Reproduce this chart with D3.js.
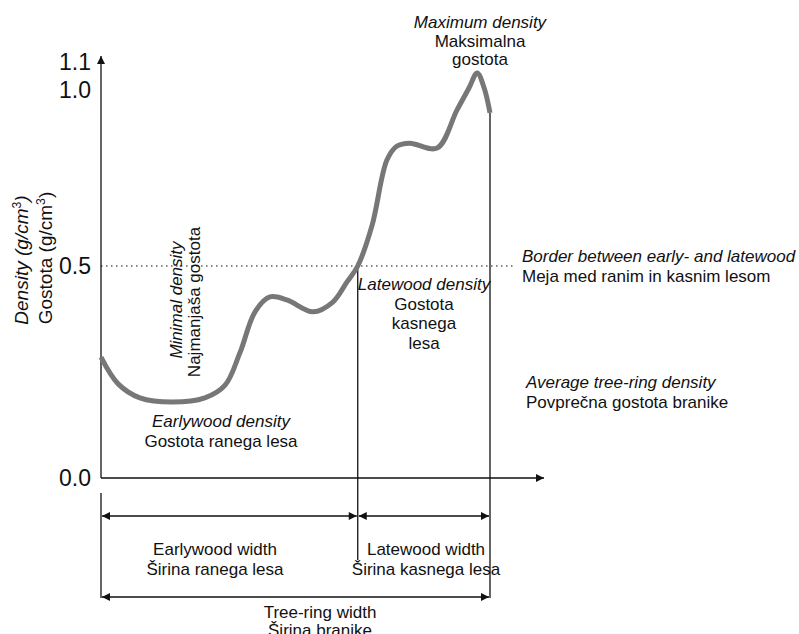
<!DOCTYPE html>
<html>
<head>
<meta charset="utf-8">
<script src="https://cdn.jsdelivr.net/npm/d3@7"></script>
<style>
  body { margin: 0; padding: 0; background: #fff; }
  text { font-family: "Liberation Sans", Arial, sans-serif; fill: #111; }
</style>
</head>
<body>
<div id="chart"></div>
<script>
// Position across the ring (0 = start, 1 = end) and density in g/cm3
const ringPos = [0, 0.044, 0.100, 0.183, 0.267, 0.319, 0.357, 0.396, 0.434, 0.478, 0.545, 0.596, 0.632, 0.660, 0.697, 0.735, 0.761, 0.794, 0.864, 0.915, 0.946, 0.967, 0.985, 1.0];
const density = [0.285, 0.222, 0.189, 0.179, 0.189, 0.219, 0.295, 0.392, 0.427, 0.420, 0.392, 0.415, 0.462, 0.500, 0.616, 0.801, 0.841, 0.849, 0.835, 0.943, 1.007, 1.061, 1.007, 0.935];
const yTicks = [0.0, 0.5, 1.0, 1.1];
const borderDensity = 0.5;
const borderPos = 0.660;

const width = 799, height = 634;

const svg = d3.select("#chart").append("svg")
    .attr("width", width)
    .attr("height", height);

// schematic axis: the drawing is not to scale, so the density axis is piecewise
const x = d3.scaleLinear().domain([0, 1]).range([101, 490]);
const y = d3.scaleLinear().domain([0, 0.5, 1.0, 1.1]).range([478, 266, 90, 62]);

// arrow heads
const defs = svg.append("defs");
defs.append("marker")
    .attr("id", "arr")
    .attr("viewBox", "0 0 10 10")
    .attr("refX", 10).attr("refY", 5)
    .attr("markerWidth", 10).attr("markerHeight", 8)
    .attr("markerUnits", "userSpaceOnUse")
    .attr("orient", "auto-start-reverse")
    .append("path")
    .attr("d", "M0,0 L10,5 L0,10 Z")
    .attr("fill", "#111");

// axis lines
svg.append("line")
    .attr("x1", x(0)).attr("y1", y(0)).attr("x2", x(0)).attr("y2", 56)
    .attr("stroke", "#111").attr("stroke-width", 1.3)
    .attr("marker-end", "url(#arr)");
svg.append("line")
    .attr("x1", x(0)).attr("y1", y(0)).attr("x2", 544).attr("y2", y(0))
    .attr("stroke", "#111").attr("stroke-width", 1.3)
    .attr("marker-end", "url(#arr)");

// tick labels
const yAxis = svg.append("g")
    .attr("transform", `translate(${x(0) - 10},0)`)
    .call(d3.axisLeft(y).tickValues(yTicks).tickSize(0).tickFormat(d3.format(".1f")));
yAxis.select(".domain").remove();
yAxis.selectAll("text")
    .attr("font-size", 23)
    .attr("font-family", "Liberation Sans, Arial, sans-serif")
    .attr("fill", "#111")
    .attr("x", 0);

// border line between early- and latewood
svg.append("line")
    .attr("x1", x(0)).attr("x2", 515)
    .attr("y1", y(borderDensity)).attr("y2", y(borderDensity))
    .attr("stroke", "#111").attr("stroke-width", 1.2)
    .attr("stroke-dasharray", "1.5,3.5");

// vertical guides
svg.append("line")
    .attr("x1", x(borderPos)).attr("x2", x(borderPos))
    .attr("y1", y(borderDensity)).attr("y2", 560)
    .attr("stroke", "#111").attr("stroke-width", 1.3);
svg.append("line")
    .attr("x1", x(1)).attr("x2", x(1))
    .attr("y1", y(density[density.length - 1])).attr("y2", 598)
    .attr("stroke", "#111").attr("stroke-width", 1.3);
svg.append("line")
    .attr("x1", x(0)).attr("x2", x(0))
    .attr("y1", 493).attr("y2", 598)
    .attr("stroke", "#111").attr("stroke-width", 1.3);

// width arrows
function dimArrow(a, b, yy) {
    svg.append("line")
        .attr("x1", x(a) + 1).attr("x2", x(b) - 1)
        .attr("y1", yy).attr("y2", yy)
        .attr("stroke", "#111").attr("stroke-width", 1.3)
        .attr("marker-start", "url(#arr)")
        .attr("marker-end", "url(#arr)");
}
dimArrow(0, borderPos, 516);
dimArrow(borderPos, 1, 516);
dimArrow(0, 1, 597);

// density curve
const pts = ringPos.map((p, i) => [p, density[i]]);
svg.append("path")
    .datum(pts)
    .attr("fill", "none")
    .attr("stroke", "#777")
    .attr("stroke-width", 5)
    .attr("stroke-linejoin", "round")
    .attr("d", d3.line()
        .x(d => x(d[0]))
        .y(d => y(d[1]))
        .curve(d3.curveCatmullRom.alpha(0.5)));

// text helper: lines = [[text, italic], ...]
function label(xx, yy, lines, anchor, size, lh) {
    const t = svg.append("text")
        .attr("x", xx).attr("y", yy)
        .attr("text-anchor", anchor)
        .attr("font-size", size);
    lines.forEach((l, i) => {
        t.append("tspan")
            .attr("x", xx)
            .attr("dy", i === 0 ? 0 : lh)
            .attr("font-style", l[1] ? "italic" : "normal")
            .text(l[0]);
    });
}

label(480, 28, [["Maximum density", true], ["Maksimalna", false], ["gostota", false]], "middle", 17, 18.5);
label(522, 262, [["Border between early- and latewood", true], ["Meja med ranim in kasnim lesom", false]], "start", 17, 20);
label(424, 290, [["Latewood density", true], ["Gostota", false], ["kasnega", false], ["lesa", false]], "middle", 17, 19.5);
label(526, 388, [["Average tree-ring density", true], ["Povprečna gostota branike", false]], "start", 17, 20);
label(221, 427, [["Earlywood density", true], ["Gostota ranega lesa", false]], "middle", 17, 20);
label(215, 555, [["Earlywood width", false], ["Širina ranega lesa", false]], "middle", 17, 20);
label(426, 555, [["Latewood width", false], ["Širina kasnega lesa", false]], "middle", 17, 20);
label(320, 618, [["Tree-ring width", false], ["Širina branike", false]], "middle", 17, 18);

// rotated labels
function rotLabel(xx, yy, parts, size) {
    const t = svg.append("text")
        .attr("transform", `translate(${xx},${yy}) rotate(-90)`)
        .attr("text-anchor", "middle")
        .attr("font-size", size);
    parts.forEach(p => {
        const s = t.append("tspan").text(p.t);
        if (p.it) s.attr("font-style", "italic");
        if (p.sup) s.attr("font-size", size * 0.65).attr("baseline-shift", "super");
    });
}
rotLabel(28, 260, [{t: "Density", it: true}, {t: " (g/cm", it: true}, {t: "3", sup: true}, {t: ")", it: true}], 19);
rotLabel(52, 258, [{t: "Gostota  (g/cm"}, {t: "3", sup: true}, {t: ")"}], 19);
rotLabel(182, 300, [{t: "Minimal density", it: true}], 17);
rotLabel(200, 302, [{t: "Najmanjaša gostota"}], 17);
</script>
</body>
</html>
